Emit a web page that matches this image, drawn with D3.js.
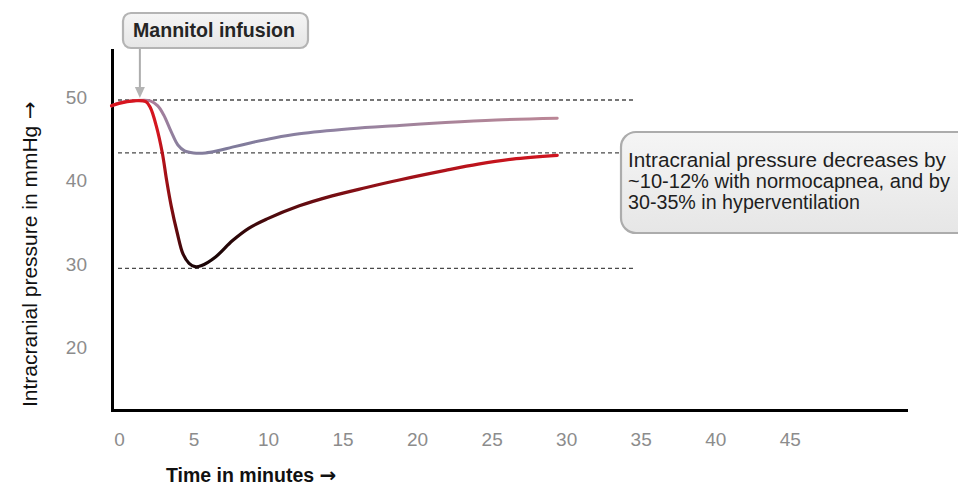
<!DOCTYPE html>
<html>
<head>
<meta charset="utf-8">
<script src="https://cdn.jsdelivr.net/npm/d3@7/dist/d3.min.js"></script>
<style>
  html, body { margin: 0; padding: 0; background: #fff; }
  svg { display: block; }
</style>
</head>
<body>
<svg id="chart" width="958" height="488"></svg>
<script>
// ICP time course after mannitol (minutes, mmHg)
const hyperTime  = [-0.5, 0, 1, 1.8, 2.1, 2.5, 2.9, 3.2, 3.5, 3.9, 4.3, 4.7, 5.1, 5.5, 6.5, 7.6, 8.7, 9.9, 12.1, 14.3, 16.6, 18.8, 21.9, 24.1, 26.4, 29.4];
const hyperICP   = [49.0, 49.3, 49.6, 49.5, 48.8, 46.6, 43.4, 40.0, 37.0, 33.8, 31.2, 30.1, 29.7, 29.8, 30.9, 32.8, 34.3, 35.4, 37.0, 38.2, 39.2, 40.1, 41.25, 42.0, 42.6, 43.05];
const normoTime  = [-0.5, 0, 1, 2.1, 2.6, 3.0, 3.5, 3.95, 4.4, 5.0, 5.8, 6.6, 7.6, 8.8, 10.4, 12.1, 15.5, 18.8, 21.9, 25.3, 29.4];
const normoICP   = [49.0, 49.35, 49.6, 49.6, 49.0, 47.9, 45.9, 44.3, 43.6, 43.35, 43.35, 43.6, 44.05, 44.55, 45.15, 45.65, 46.25, 46.65, 47.0, 47.3, 47.5];

// reference levels: baseline, normocapnea minimum, hyperventilation minimum
const refLevels  = [49.7, 43.35, 29.5];
const xTicks     = [0, 5, 10, 15, 20, 25, 30, 35, 40, 45];
const yTicks     = [20, 30, 40, 50];
const infusionTime = 1.4;

const mannitolLabel = "Mannitol infusion";
const noteLines = [
  "Intracranial pressure decreases by",
  "~10-12% with normocapnea, and by",
  "30-35% in hyperventilation"
];
const yTitle = "Intracranial pressure in mmHg";
const xTitle = "Time in minutes";
const arrowGlyph = "\u2192";

const FONT = '"Liberation Sans", Arial, sans-serif';
const ARROW_FONT = '"DejaVu Sans", sans-serif';
const svg = d3.select("#chart");

const x = d3.scaleLinear().domain([-0.47, 52.8]).range([112, 906]);
const y = d3.scaleLinear().domain([12.5, 55.7]).range([410, 50]);

const defs = svg.append("defs");

function strokeGradient(id, stops) {
  const t0 = stops[0][0], t1 = stops[stops.length - 1][0];
  const g = defs.append("linearGradient")
    .attr("id", id)
    .attr("gradientUnits", "userSpaceOnUse")
    .attr("x1", x(t0)).attr("x2", x(t1))
    .attr("y1", 0).attr("y2", 0);
  stops.forEach(([t, c]) => g.append("stop")
    .attr("offset", (t - t0) / (t1 - t0)).attr("stop-color", c));
}
strokeGradient("gradHyper", [
  [-0.5, "#d8141f"], [2.6, "#d4161f"], [3.6, "#7a0c10"], [4.6, "#1e0507"],
  [6.5, "#1a0506"], [10, "#4a090c"], [17, "#8e1017"], [25, "#c4141d"], [29.4, "#cf1520"]
]);
strokeGradient("gradNormo", [
  [-0.5, "#c06a86"], [2.5, "#a97e9c"], [4.0, "#8a809e"], [7, "#7e7a9a"],
  [14, "#8f82a2"], [22, "#a98499"], [29.4, "#bb8696"]
]);
const boxFill = defs.append("linearGradient").attr("id", "boxFill")
  .attr("x1", 0).attr("x2", 0).attr("y1", 0).attr("y2", 1);
boxFill.append("stop").attr("offset", 0).attr("stop-color", "#f5f5f5");
boxFill.append("stop").attr("offset", 1).attr("stop-color", "#e6e6e6");

// dashed reference levels
const dashEnds = [636, 622, 636];
svg.append("g").selectAll("line").data(refLevels).join("line")
  .attr("x1", 118).attr("x2", (d, i) => dashEnds[i])
  .attr("y1", d => y(d)).attr("y2", d => y(d))
  .attr("stroke", "#4a4a4a").attr("stroke-width", 1.4)
  .attr("stroke-dasharray", "4,3");

// axes
const xAxis = d3.axisBottom(x).tickValues(xTicks).tickSize(0).tickSizeOuter(0).tickPadding(23);
const yAxis = d3.axisLeft(y).tickValues(yTicks).tickSize(0).tickSizeOuter(0).tickPadding(25);

const gx = svg.append("g").attr("transform", "translate(0,410)").call(xAxis);
const gy = svg.append("g").attr("transform", "translate(112,0)").call(yAxis);
[gx, gy].forEach(g => {
  g.select(".domain").attr("stroke", "#000").attr("stroke-width", 3).attr("stroke-linecap", "square");
  g.selectAll(".tick text")
    .attr("font-size", 19).attr("fill", "#8c8c8c")
    .style("font-family", FONT);
});

// curves
const line = (ts, vs) => d3.line()
  .x((d, i) => x(ts[i])).y(d => y(d))
  .curve(d3.curveCatmullRom.alpha(0.5))(vs);

svg.append("path").attr("d", line(normoTime, normoICP))
  .attr("fill", "none").attr("stroke", "url(#gradNormo)").attr("stroke-width", 3)
  .attr("stroke-linecap", "round");
svg.append("path").attr("d", line(hyperTime, hyperICP))
  .attr("fill", "none").attr("stroke", "url(#gradHyper)").attr("stroke-width", 3.2)
  .attr("stroke-linecap", "round");

// axis titles
const yt = svg.append("text")
  .attr("transform", "translate(37,407) rotate(-90)")
  .attr("font-family", FONT).attr("font-size", 21).attr("fill", "#111");
yt.append("tspan").text(yTitle);
yt.append("tspan").text(" " + arrowGlyph).attr("font-family", ARROW_FONT).attr("font-size", 21);

const xt = svg.append("text")
  .attr("x", 166).attr("y", 482)
  .attr("font-family", FONT).attr("font-size", 19.5).attr("font-weight", "bold").attr("fill", "#111");
xt.append("tspan").text(xTitle + "  ");
xt.append("tspan").text(arrowGlyph).attr("font-family", ARROW_FONT).attr("font-size", 20);

// mannitol callout with arrow
const ax = x(infusionTime);
svg.append("line").attr("x1", ax).attr("x2", ax).attr("y1", 48).attr("y2", 88)
  .attr("stroke", "#adadad").attr("stroke-width", 2);
svg.append("path")
  .attr("d", `M${ax - 5},87 L${ax + 5},87 L${ax},${y(refLevels[0]) - 2} Z`)
  .attr("fill", "#b4b4b4");
svg.append("rect").attr("x", 123).attr("y", 13).attr("width", 185).attr("height", 35)
  .attr("rx", 8).attr("fill", "url(#boxFill)").attr("stroke", "#b4b4b4").attr("stroke-width", 2.2);
svg.append("text").text(mannitolLabel)
  .attr("x", 133).attr("y", 37)
  .attr("font-family", FONT).attr("font-size", 19.5).attr("font-weight", "bold").attr("fill", "#252525")
  .attr("textLength", 162).attr("lengthAdjust", "spacingAndGlyphs");

// summary note
svg.append("rect").attr("x", 621).attr("y", 132).attr("width", 360).attr("height", 101)
  .attr("rx", 15).attr("fill", "url(#boxFill)").attr("stroke", "#acacac").attr("stroke-width", 2.2);
const noteWidths = [318, 322, 232];
svg.append("g").selectAll("text").data(noteLines).join("text")
  .text(d => d)
  .attr("x", 628).attr("y", (d, i) => 167 + i * 21)
  .attr("font-family", FONT).attr("font-size", 20.5).attr("fill", "#1e1e1e")
  .attr("textLength", (d, i) => noteWidths[i]).attr("lengthAdjust", "spacingAndGlyphs");
</script>
</body>
</html>
